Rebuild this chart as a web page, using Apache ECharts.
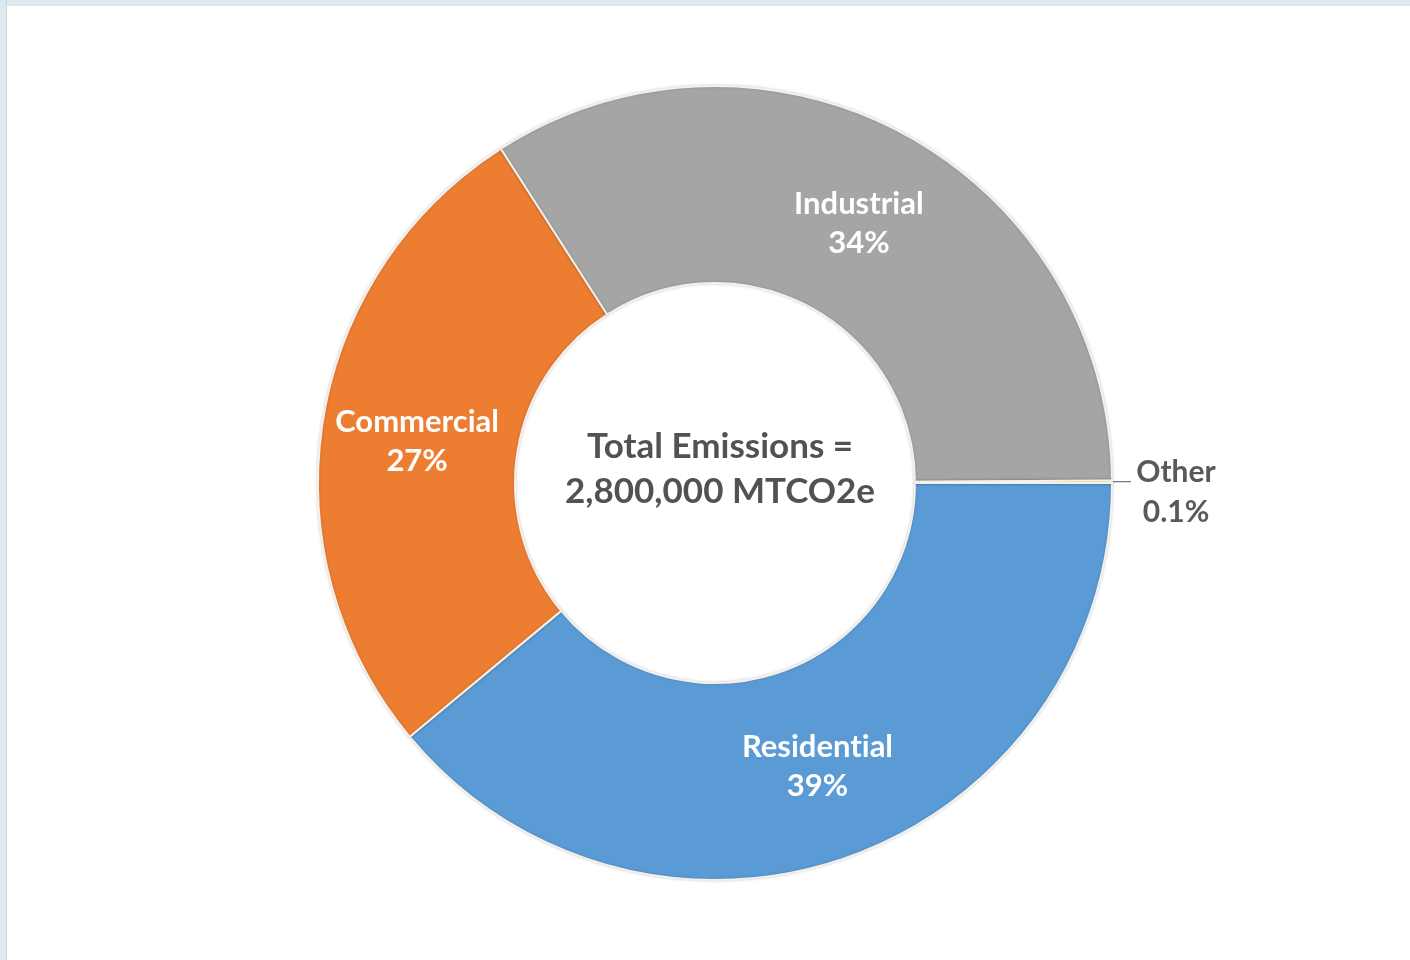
<!DOCTYPE html>
<html>
<head>
<meta charset="utf-8">
<script src="https://cdn.jsdelivr.net/npm/echarts@6/dist/echarts.min.js"></script>
<style>
  html, body { margin: 0; padding: 0; background: #ffffff; }
  #frameTop { position: fixed; left: 0; top: 0; width: 1410px; height: 6px; background: #dde9ef; }
  #frameLeft { position: fixed; left: 0; top: 0; width: 6px; height: 960px; background: #dde9ef; border-right: 1px solid #d6d6d6; }
  #chart { position: absolute; left: 0; top: 0; width: 1410px; height: 960px; }
</style>
</head>
<body>
<div id="frameTop"></div>
<div id="frameLeft"></div>
<div id="chart"></div>
<script>
// ---- data ----
const categories = ['Residential', 'Commercial', 'Industrial', 'Other'];
const shares = [39, 27, 34, 0.1];           // percent of total emissions
const colors = ['#5B9BD5', '#ED7D31', '#A5A5A5', '#FFC000'];
const centerLines = ['Total Emissions =', '2,800,000 MTCO2e'];

const chart = echarts.init(document.getElementById('chart'), null, { renderer: 'canvas' });

const FONT = 'Lato, "Open Sans", sans-serif';
// break the Lato "ti" ligature so the text renders like the reference
const noLig = s => String(s).replace(/ti/g, 't\u200Ci');

const data = categories.map((name, i) => {
  const item = { name: name, value: shares[i], itemStyle: { color: colors[i] } };
  if (name === 'Other') {
    item.label = {
      show: true,
      position: 'outside',
      formatter: p => '{a|' + p.name + '}\n{a|' + p.value + '%}',
      rich: {
        a: { width: 80, align: 'center', color: '#595959', fontSize: 30, fontWeight: 'bold', fontFamily: FONT, lineHeight: 40 }
      },
      padding: [22, 0, 0, 0]
    };
    item.labelLine = { show: true, length: 15, length2: 4, lineStyle: { color: '#4a5a6a', width: 1 } };
  } else if (name === 'Industrial' || name === 'Commercial') {
    item.label = { offset: [0, 5] };
  }
  return item;
});

chart.setOption({
  backgroundColor: 'transparent',
  animation: false,
  title: {
    text: centerLines.join('\n'),
    left: 715,
    top: 419,
    textAlign: 'center',
    textStyle: { color: '#525252', fontSize: 35, fontWeight: 'bold', fontFamily: FONT, lineHeight: 45 }
  },
  series: [{
    type: 'pie',
    center: [715, 483],
    radius: [200, 397],
    startAngle: 0,
    clockwise: true,
    avoidLabelOverlap: false,
    minAngle: 0,
    itemStyle: {
      borderColor: '#f4f1ec',
      borderWidth: 2,
      shadowBlur: 3,
      shadowColor: 'rgba(0,0,0,0.18)'
    },
    label: {
      show: true,
      position: 'inside',
      formatter: p => noLig(p.name) + '\n' + p.value + '%',
      color: '#ffffff',
      fontSize: 31,
      fontWeight: 'bold',
      fontFamily: FONT,
      lineHeight: 39
    },
    labelLine: { show: false },
    emphasis: { disabled: true },
    data: data
  }]
});
</script>
</body>
</html>
